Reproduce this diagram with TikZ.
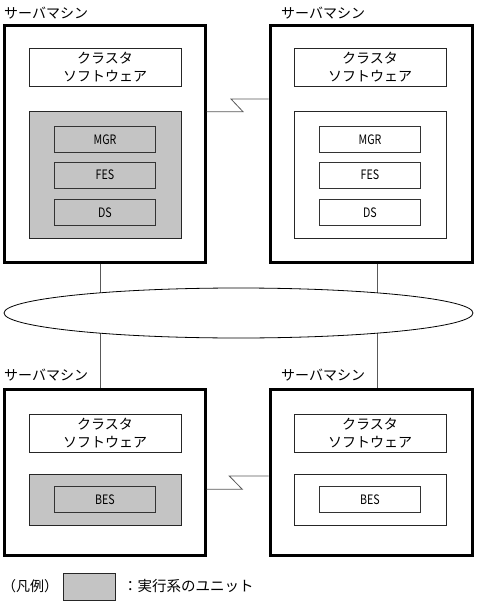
\documentclass[tikz,border=0pt]{standalone}
\usepackage{fontspec}
\setmainfont{Noto Sans CJK JP}
\usetikzlibrary{shapes.geometric,patterns.meta}
\newcommand{\halfw}[1]{\scalebox{0.82}[1]{#1}}
\begin{document}
\begin{tikzpicture}[x=1pt,y=-1pt,
  server/.style={draw,line width=3pt,inner sep=0pt},
  box/.style={draw=black!85,line width=0.8pt,inner sep=0pt,align=center,font=\fontsize{14}{18}\selectfont},
  shade/.style={pattern={Dots[distance=2pt,radius=0.72pt]},pattern color=black},
  unit/.style={draw=black!80,line width=0.9pt,minimum width=101pt,minimum height=26pt,inner sep=0pt,font=\fontsize{13}{14}\selectfont},
  title/.style={anchor=west,inner sep=0pt,font=\fontsize{14}{16}\selectfont},
  conn/.style={draw=black!65,line width=0.8pt}]
\useasboundingbox (0,0) rectangle (477,604);

% servers
\node[server,minimum width=201pt,minimum height=236pt] (s1) at (104.5,144) {};
\node[server,minimum width=202pt,minimum height=236pt] (s2) at (371,144) {};
\node[server,minimum width=201pt,minimum height=166pt] (s3) at (104.5,472) {};
\node[server,minimum width=202pt,minimum height=166pt] (s4) at (371,472) {};

\node[title] (t1) at (4,13) {サーバマシン};
\node[title] (t2) at (281,13) {サーバマシン};
\node[title] (t3) at (4,375) {サーバマシン};
\node[title] (t4) at (281,375) {サーバマシン};

% cluster software
\node[box,minimum width=152pt,minimum height=38pt] (c1) at (105,67.5) {クラスタ\\ソフトウェア};
\node[box,minimum width=152pt,minimum height=38pt] (c2) at (370,67.5) {クラスタ\\ソフトウェア};
\node[box,minimum width=152pt,minimum height=38pt] (c3) at (105,433) {クラスタ\\ソフトウェア};
\node[box,minimum width=152pt,minimum height=38pt] (c4) at (370,433) {クラスタ\\ソフトウェア};

% unit areas
\node[box,shade,minimum width=152pt,minimum height=127pt] (e1) at (105,174.5) {};
\node[box,minimum width=152pt,minimum height=127pt] (e2) at (370,174.5) {};
\node[box,shade,minimum width=152pt,minimum height=51pt] (e3) at (105,499.7) {};
\node[box,minimum width=152pt,minimum height=51pt] (e4) at (370,499.7) {};

\node[unit] (m1) at (105,139.3) {\halfw{MGR}};
\node[unit] (f1) at (105,175) {\halfw{FES}};
\node[unit] (d1) at (105,212.5) {\halfw{DS}};
\node[unit] (m2) at (370,139.3) {\halfw{MGR}};
\node[unit] (f2) at (370,175) {\halfw{FES}};
\node[unit] (d2) at (370,212.5) {\halfw{DS}};
\node[unit] (b3) at (105,499.7) {\halfw{BES}};
\node[unit] (b4) at (370,499.7) {\halfw{BES}};

% zigzag links
\coordinate (z1a) at (243,111.7);
\coordinate (z1b) at (231,99);
\draw[conn] (s1.east |- z1a) -- (z1a) -- (z1b) -- (s2.west |- z1b);
\coordinate (z2a) at (242.3,489.3);
\coordinate (z2b) at (229.3,476);
\draw[conn] (s3.east |- z2a) -- (z2a) -- (z2b) -- (s4.west |- z2b);

% network
\coordinate (v1) at (100,313);
\coordinate (v2) at (377,313);
\draw[conn] (s1.south -| v1) -- (s3.north -| v1);
\draw[conn] (s2.south -| v2) -- (s4.north -| v2);
\node[draw,ellipse,fill=white,line width=0.8pt,minimum width=469pt,minimum height=50pt,inner sep=0pt] (net) at (238.5,313) {};

% legend
\node[title] (lg) at (2,586) {（凡例）};
\node[draw=black!85,line width=0.8pt,shade,minimum width=52pt,minimum height=27pt,inner sep=0pt] (lgbox) at (89,587) {};
\node[title,font=\fontsize{14.5}{16}\selectfont] (lgt) at (123,586) {：実行系のユニット};
\end{tikzpicture}
\end{document}
